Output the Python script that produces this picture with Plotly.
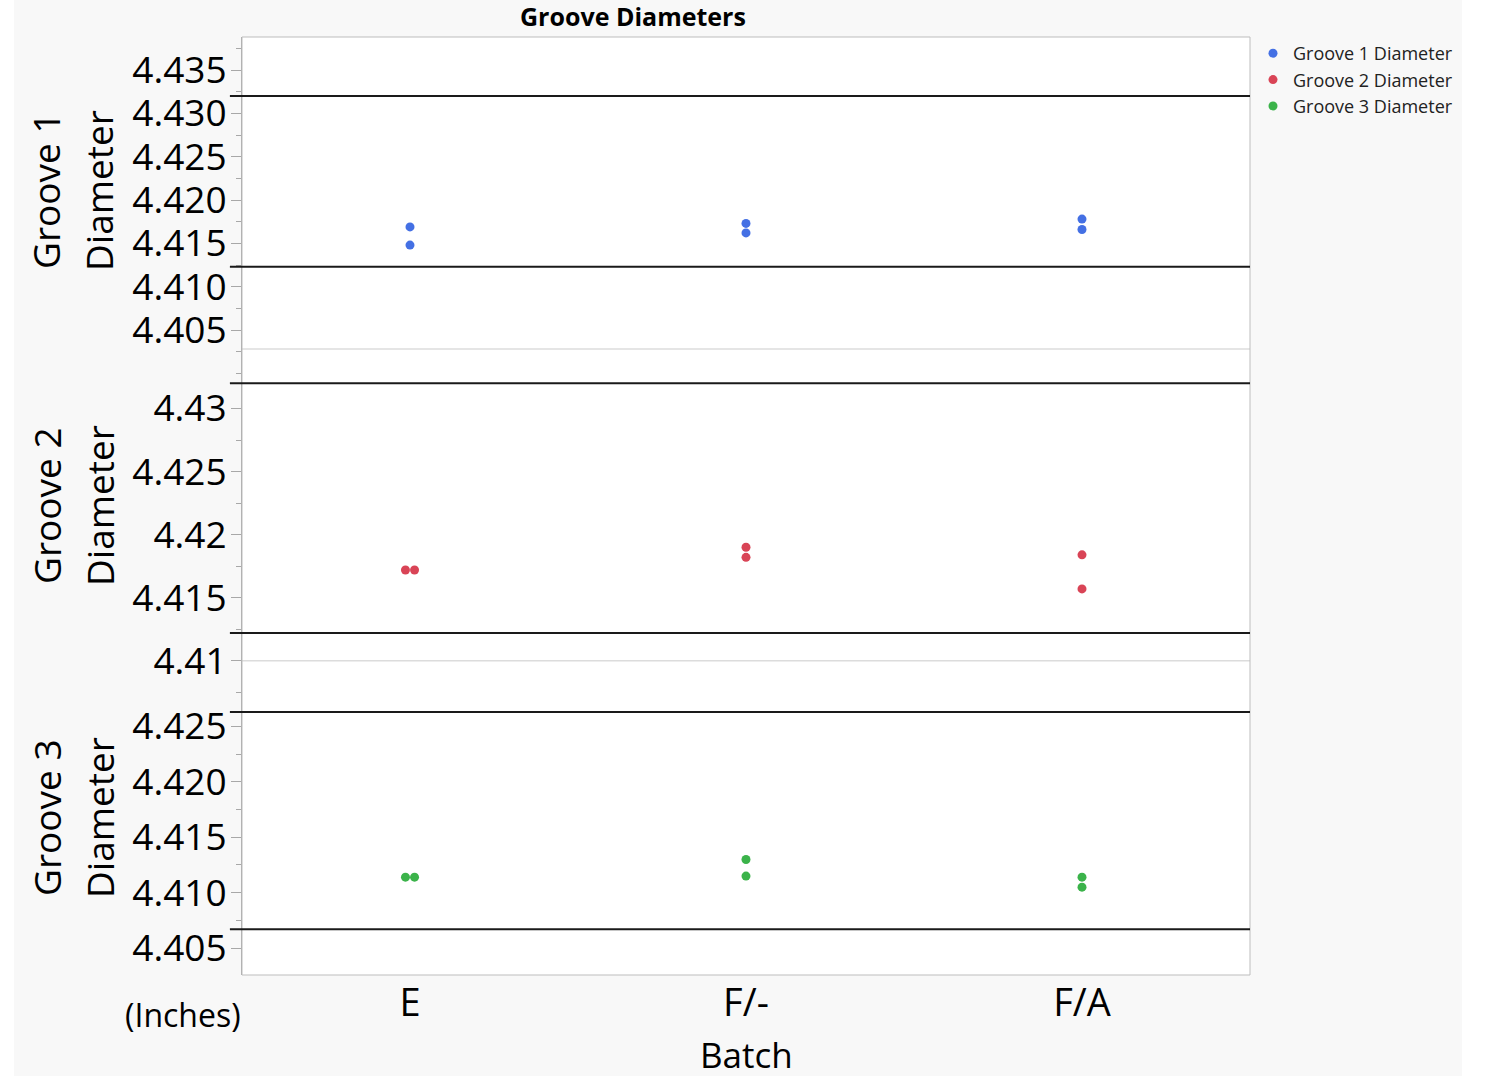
import plotly.graph_objects as go

# ---------------- data ----------------
categories = ["E", "F/-", "F/A"]
batch = ["E", "E", "F/-", "F/-", "F/A", "F/A"]
groove1 = [4.4169, 4.4148, 4.4173, 4.4162, 4.4178, 4.4166]
groove2 = [4.4172, 4.4172, 4.4190, 4.4182, 4.4184, 4.4157]
groove3 = [4.4114, 4.4114, 4.4130, 4.4115, 4.4114, 4.4105]

series_names = ["Groove 1 Diameter", "Groove 2 Diameter", "Groove 3 Diameter"]
panel_titles = [("Groove 1", "Diameter"), ("Groove 2", "Diameter"), ("Groove 3", "Diameter")]

# spec limit lines (upper, lower) per panel
spec1 = [4.4320, 4.4123]
spec2 = [4.4320, 4.4122]
spec3 = [4.4263, 4.4067]
# light reference lines
ref1 = [4.4028]
ref2 = [4.4100]

tick1 = [4.405, 4.410, 4.415, 4.420, 4.425, 4.430, 4.435]
tick1_text = ["4.405", "4.410", "4.415", "4.420", "4.425", "4.430", "4.435"]
tick2 = [4.410, 4.415, 4.420, 4.425, 4.430]
tick2_text = ["4.41", "4.415", "4.42", "4.425", "4.43"]
tick3 = [4.405, 4.410, 4.415, 4.420, 4.425]
tick3_text = ["4.405", "4.410", "4.415", "4.420", "4.425"]

range1 = [4.39900, 4.43881]
range2 = [4.40602, 4.43210]
range3 = [4.40257, 4.42640]

colors = ["#4470E4", "#D94456", "#3BB34A"]

# ---------------- layout geometry ----------------
W, H = 1486, 1076
def fx(px):
    return px / W
def fy(py):
    return 1 - py / H

x_dom = [fx(242), fx(1250)]
y_doms = [[fy(382), fy(37)], [fy(711), fy(382)], [fy(975), fy(711)]]

FONT = "Open Sans, Noto Sans, sans-serif"

# horizontal jitter only for exactly tied values within a batch
def positions(vals):
    xs = []
    for i, (b, v) in enumerate(zip(batch, vals)):
        base = categories.index(b)
        ties = [j for j, (b2, v2) in enumerate(zip(batch, vals)) if b2 == b and v2 == v]
        if len(ties) > 1:
            k = ties.index(i)
            off = (k - (len(ties) - 1) / 2) * 0.027
        else:
            off = 0.0
        xs.append(base + off)
    return xs

fig = go.Figure()
for k, (vals, name) in enumerate(zip([groove1, groove2, groove3], series_names)):
    fig.add_trace(go.Scatter(
        x=positions(vals), y=vals, mode="markers", name=name,
        xaxis="x", yaxis="y" if k == 0 else f"y{k+1}",
        marker=dict(color=colors[k], size=9, line=dict(width=0)),
        hovertext=[b for b in batch],
    ))

shapes = []
# white strips at the page edges (grey page between)
shapes.append(dict(type="rect", xref="paper", yref="paper", x0=0, x1=fx(14), y0=0, y1=1,
                   fillcolor="white", line=dict(width=0), layer="below"))
shapes.append(dict(type="rect", xref="paper", yref="paper", x0=fx(1462), x1=1, y0=0, y1=1,
                   fillcolor="white", line=dict(width=0), layer="below"))

yrefs = ["y", "y2", "y3"]
for yr, refs in zip(yrefs[:2], [ref1, ref2]):
    for v in refs:
        shapes.append(dict(type="line", xref="x domain", yref=yr, x0=0, x1=1, y0=v, y1=v,
                           line=dict(color="#DCDCDC", width=1.5), layer="above"))
# plot area border
shapes.append(dict(type="rect", xref="paper", yref="paper", x0=x_dom[0], x1=x_dom[1],
                   y0=y_doms[2][0], y1=y_doms[0][1], line=dict(color="#BDBDBD", width=1),
                   layer="above"))
for yr, spec in zip(yrefs, [spec1, spec2, spec3]):
    for v in spec:
        shapes.append(dict(type="line", xref="x domain", yref=yr, x0=-0.012, x1=1, y0=v, y1=v,
                           line=dict(color="#1A1A1A", width=2), layer="above"))

def A(text, x, y, size, xref="paper", angle=0):
    return dict(text=text, xref=xref, yref="paper", x=x, y=y, textangle=angle,
                xanchor="center", yanchor="middle", showarrow=False,
                font=dict(family=FONT, size=size, color="#000"))

ann = [A("<b>Groove Diameters</b>", fx(633), fy(16), 25)]
centers = [191, 506, 818]
for (l1, l2), cy in zip(panel_titles, centers):
    ann.append(A(l1, fx(46), fy(cy), 37, angle=-90))
    ann.append(A(l2, fx(99), fy(cy), 37, angle=-90))
ann.append(A("(Inches)", fx(183), fy(1014), 32))
ann.append(A("Batch", 0.5, fy(1054), 35, xref="x domain"))

def yaxis(dom, rng, tv, tt):
    return dict(domain=dom, range=rng, anchor="x", tickmode="array", tickvals=tv, ticktext=tt,
                ticks="outside", ticklen=10, tickcolor="#A8A8A8", tickwidth=1,
                showline=True, linecolor="#A8A8A8", linewidth=1, showgrid=False, zeroline=False,
                automargin=False,
                tickfont=dict(family=FONT, size=37, color="#000"), ticklabelstandoff=-3,
                minor=dict(tickmode="linear", tick0=4.4, dtick=0.0025, ticks="outside",
                           ticklen=5, tickcolor="#A8A8A8", showgrid=False))

fig.update_layout(
    width=W, height=H, margin=dict(l=0, r=0, t=0, b=0, autoexpand=False),
    paper_bgcolor="#F8F8F8", plot_bgcolor="white",
    font=dict(family=FONT, color="#000"),
    xaxis=dict(domain=x_dom, range=[-0.5, 2.5], anchor="y3", tickmode="array",
               tickvals=[0, 1, 2], ticktext=categories, ticks="", showline=False,
               showgrid=False, zeroline=False, ticklabelstandoff=2, automargin=False,
               tickfont=dict(family=FONT, size=38, color="#000")),
    yaxis=yaxis(y_doms[0], range1, tick1, tick1_text),
    yaxis2=yaxis(y_doms[1], range2, tick2, tick2_text),
    yaxis3=yaxis(y_doms[2], range3, tick3, tick3_text),
    shapes=shapes, annotations=ann,
    showlegend=True,
    legend=dict(x=fx(1253), y=fy(35), xanchor="left", yanchor="top",
                bgcolor="rgba(0,0,0,0)", font=dict(family=FONT, size=18, color="#222"),
                tracegroupgap=0, itemwidth=30),
)

fig.write_html("out.html", config={"displayModeBar": False},
               post_script="document.body.style.margin='0';document.body.style.overflow='hidden';")
